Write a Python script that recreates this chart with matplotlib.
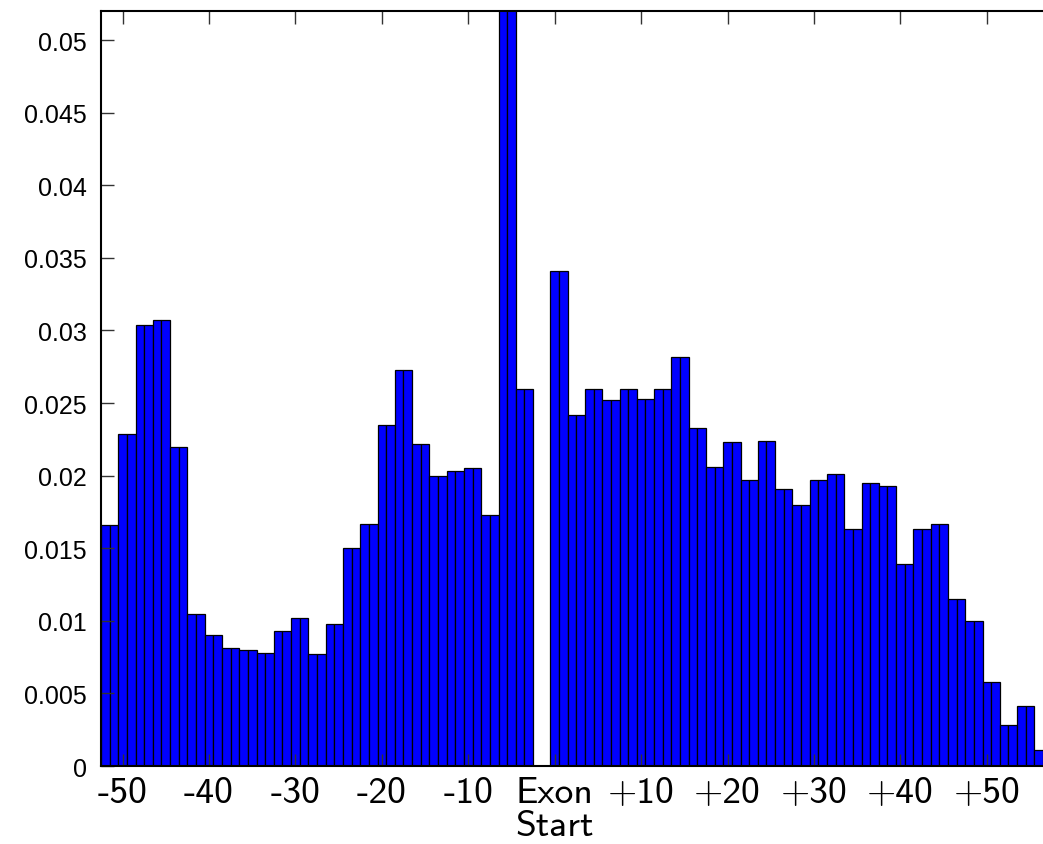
import numpy as np
import matplotlib
matplotlib.use('Agg')
import matplotlib.pyplot as plt

# bar heights, read in pairs (each pair = two neighbouring positions)
left_pairs = [0.0166, 0.0229, 0.0304, 0.0307, 0.0220, 0.0105, 0.0090, 0.0081,
              0.0080, 0.0078, 0.0093, 0.0102, 0.0077, 0.0098, 0.0150, 0.0167,
              0.0235, 0.0273, 0.0222, 0.0200, 0.0203, 0.0205, 0.0173, 0.0600,
              0.0260]
right_pairs = [0.0341, 0.0242, 0.0260, 0.0252, 0.0260, 0.0253, 0.0260, 0.0282,
               0.0233, 0.0206, 0.0223, 0.0197, 0.0224, 0.0191, 0.0180, 0.0197,
               0.0201, 0.0163, 0.0195, 0.0193, 0.0139, 0.0163, 0.0167, 0.0115,
               0.0100, 0.0058, 0.0028, 0.0041]
last_value = 0.0011

left_pos = np.arange(-52, -2)
right_pos = np.arange(0, 57)
left_vals = np.repeat(left_pairs, 2)
right_vals = np.append(np.repeat(right_pairs, 2), last_value)

xtick_pos = [-50, -40, -30, -20, -10, 0, 10, 20, 30, 40, 50]
xtick_labels = ['-50', '-40', '-30', '-20', '-10', 'Exon\nStart',
                '+10', '+20', '+30', '+40', '+50']
ytick_pos = np.arange(0, 0.0501, 0.005)
ytick_labels = ['0', '0.005', '0.01', '0.015', '0.02', '0.025',
                '0.03', '0.035', '0.04', '0.045', '0.05']

fig = plt.figure(figsize=(10.43, 8.45), dpi=100)
ax = fig.add_axes([0.0968, 0.0923, 0.9032, 0.8935])

ax.bar(left_pos, left_vals, width=1.0, color='#0000ff', edgecolor='black', linewidth=0.9)
ax.bar(right_pos, right_vals, width=1.0, color='#0000ff', edgecolor='black', linewidth=0.9)

ax.set_xlim(-52.5, 56.5)
ax.set_ylim(0, 0.052)

ax.set_xticks(xtick_pos)
ax.set_xticklabels(xtick_labels, fontfamily='cmss10', fontsize=27, linespacing=1.0)
ax.set_yticks(ytick_pos)
ax.set_yticklabels(ytick_labels, fontfamily='Liberation Sans', fontsize=18)

ax.tick_params(axis='both', direction='in', length=9, width=1, color='#333333',
               top=True, right=False)
ax.tick_params(axis='x', pad=7)
ax.tick_params(axis='y', pad=10)
for s in ax.spines.values():
    s.set_linewidth(1.5)
ax.spines['right'].set_visible(False)

plt.savefig('out.png', dpi=100)
